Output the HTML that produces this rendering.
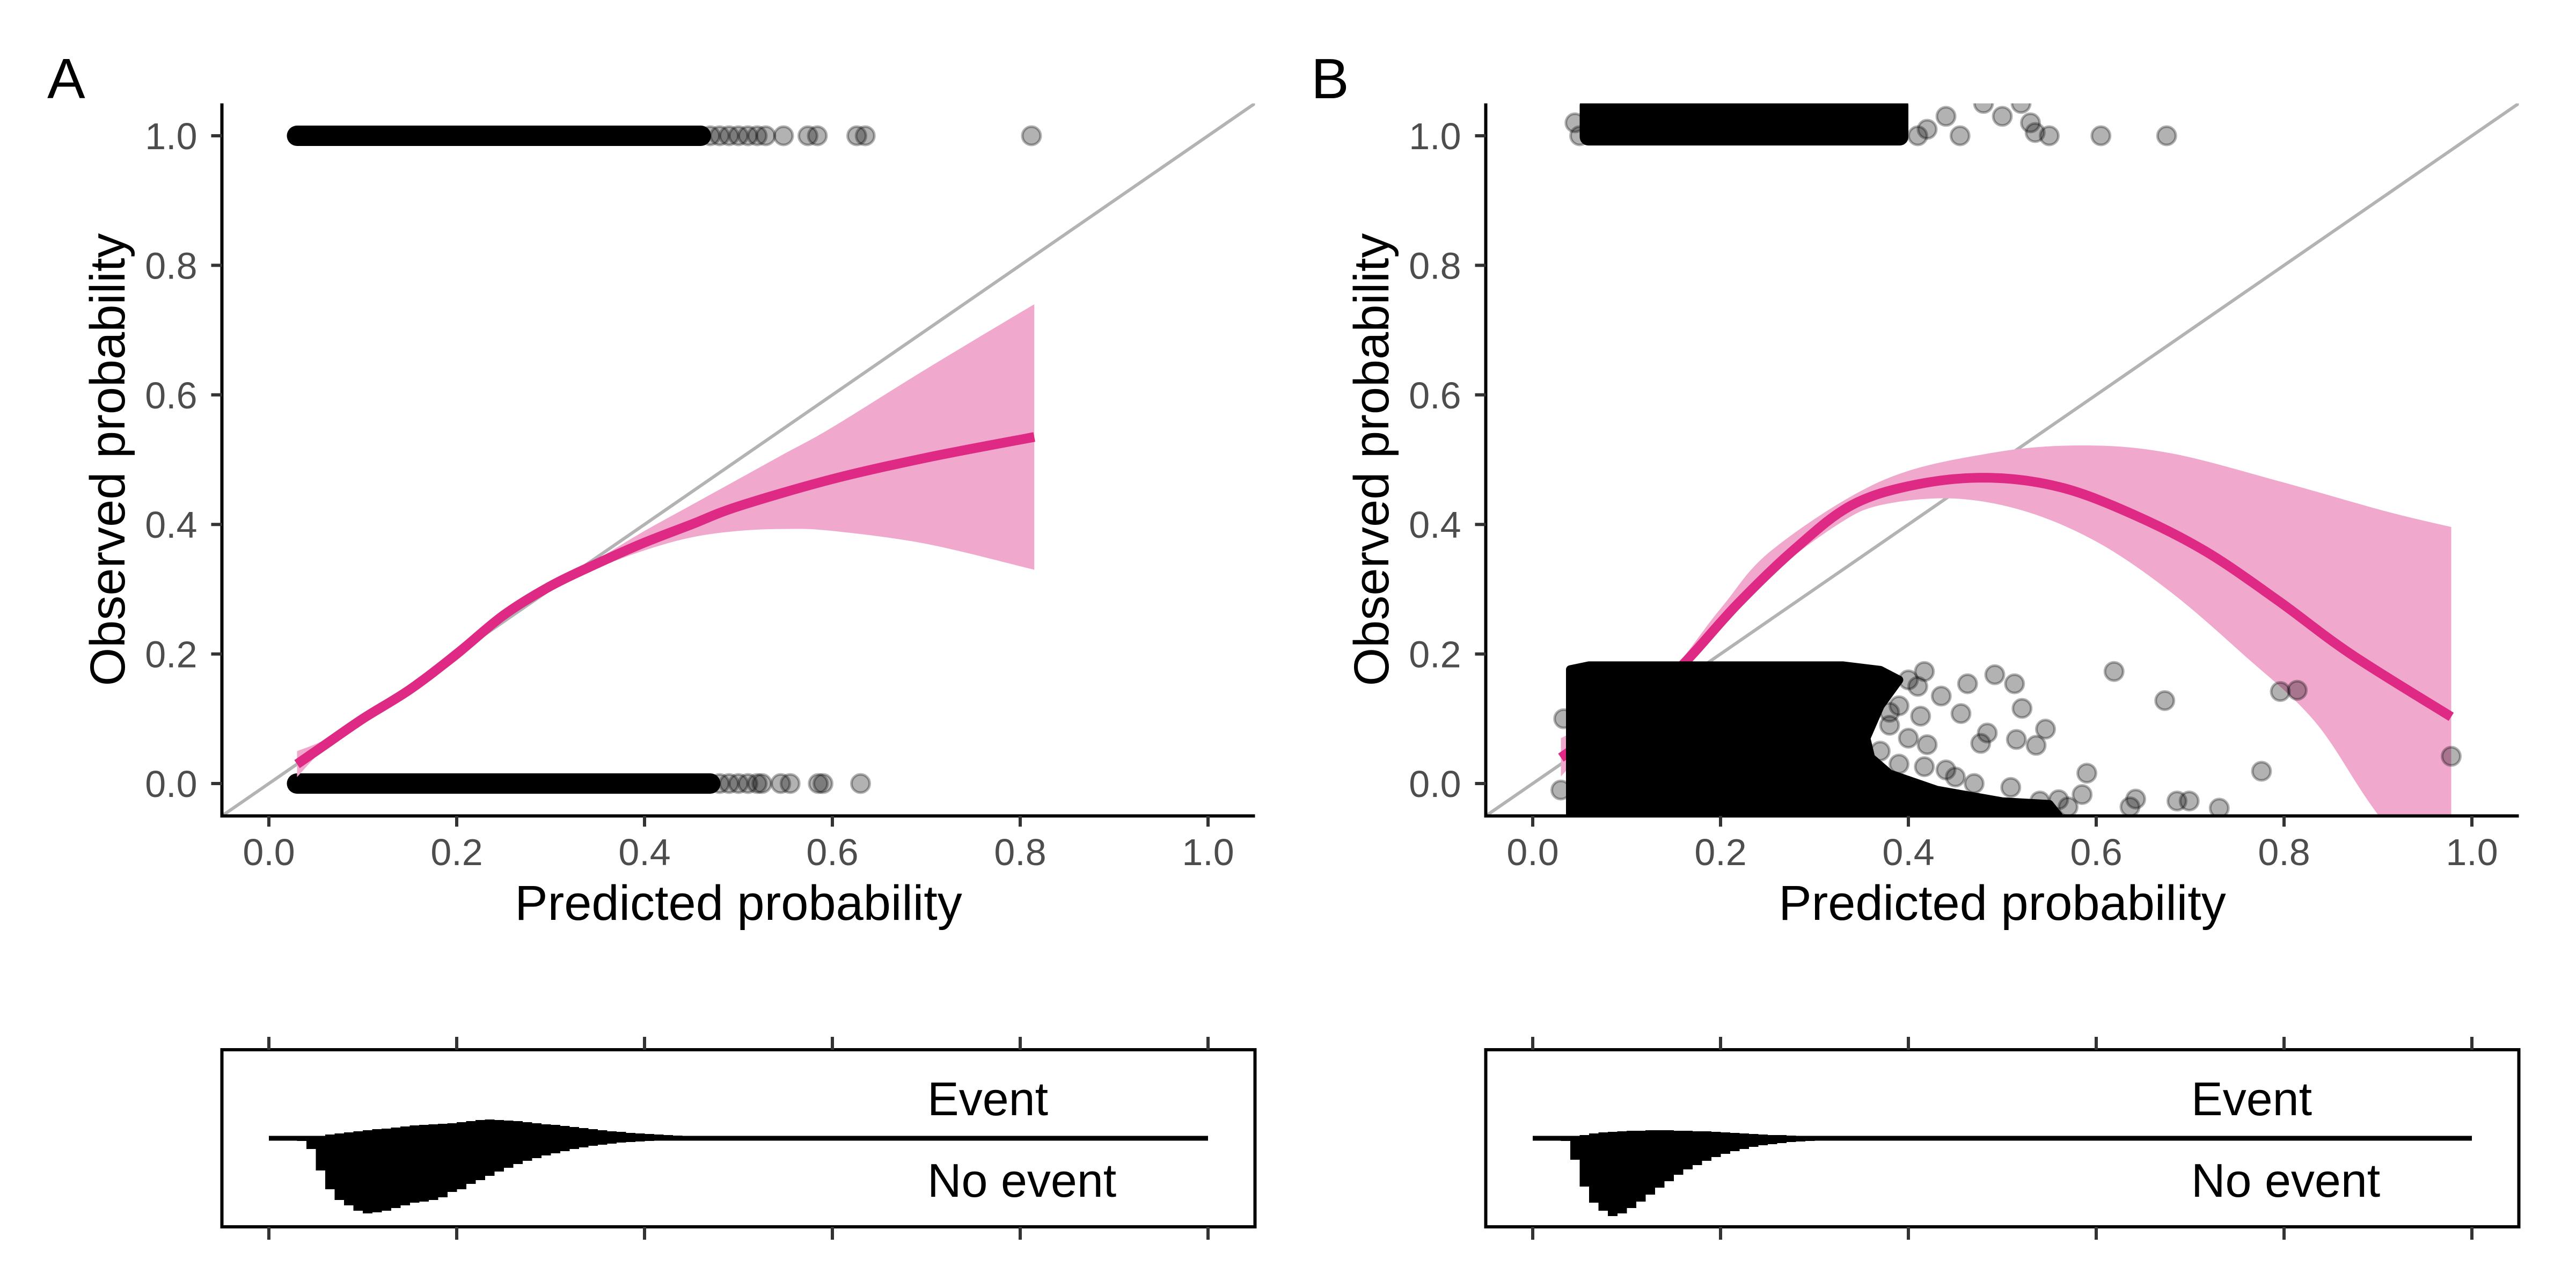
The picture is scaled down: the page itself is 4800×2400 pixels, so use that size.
<!DOCTYPE html>
<html><head><meta charset="utf-8"><title>Calibration plots</title>
<style>html,body{margin:0;padding:0;background:#fff}svg{display:block}text{font-family:"Liberation Sans",Arial,sans-serif}</style>
</head><body>
<svg id="chart" xmlns="http://www.w3.org/2000/svg" width="4800" height="2400" viewBox="0 0 4800 2400"></svg>
<script>
// ---------- data ----------
const xTicks = [0, 0.2, 0.4, 0.6, 0.8, 1.0];
const yTicks = [0, 0.2, 0.4, 0.6, 0.8, 1.0];
const tickLabels = ["0.0", "0.2", "0.4", "0.6", "0.8", "1.0"];
const panelLetters = ["A", "B"];

// Panel A smooth curve + CI
const aCurveX = [0.03, 0.06, 0.1, 0.15, 0.2, 0.25, 0.3, 0.35, 0.4, 0.45, 0.5, 0.6, 0.7, 0.815];
const aCurveY = [0.03, 0.06, 0.10, 0.145, 0.20, 0.26, 0.305, 0.34, 0.372, 0.40, 0.428, 0.47, 0.503, 0.535];
const aLowX = [0.03, 0.06, 0.1, 0.15, 0.2, 0.25, 0.3, 0.35, 0.4, 0.45, 0.5, 0.55, 0.6, 0.7, 0.815];
const aLowY = [0.01, 0.055, 0.095, 0.14, 0.19, 0.255, 0.30, 0.333, 0.36, 0.38, 0.39, 0.393, 0.39, 0.37, 0.33];
const aHighY = [0.05, 0.068, 0.105, 0.15, 0.21, 0.265, 0.31, 0.347, 0.39, 0.43, 0.47, 0.51, 0.55, 0.64, 0.74];
// Panel A dense bands (x start, x end) and outlier points
const aBandTop = [0.03, 0.46];
const aBandBottom = [0.03, 0.47];
const aOutTopX = [0.47, 0.48, 0.49, 0.50, 0.51, 0.52, 0.529, 0.548, 0.574, 0.584, 0.626, 0.635, 0.812];
const aOutBotX = [0.48, 0.49, 0.50, 0.51, 0.52, 0.525, 0.545, 0.555, 0.585, 0.59, 0.63];

// Panel B smooth curve + CI
const bCurveX = [0.03, 0.07, 0.118, 0.164, 0.218, 0.279, 0.34, 0.41, 0.487, 0.563, 0.64, 0.717, 0.794, 0.871, 0.978];
const bCurveY = [0.04, 0.08, 0.125, 0.19, 0.277, 0.362, 0.43, 0.462, 0.472, 0.457, 0.415, 0.358, 0.282, 0.20, 0.103];
const bLowX = [0.03, 0.07, 0.135, 0.2, 0.256, 0.325, 0.371, 0.448, 0.525, 0.602, 0.679, 0.756, 0.832, 0.894, 0.978];
const bLowY = [0.011, 0.07, 0.135, 0.24, 0.325, 0.40, 0.43, 0.44, 0.42, 0.372, 0.296, 0.20, 0.097, -0.036, -0.2];
const bHighX = [0.03, 0.07, 0.14, 0.2, 0.256, 0.371, 0.487, 0.586, 0.679, 0.794, 0.909, 0.978];
const bHighY = [0.07, 0.10, 0.163, 0.27, 0.362, 0.467, 0.51, 0.522, 0.51, 0.467, 0.42, 0.396];
// Panel B dense clouds (outline in data coords)
const bCloudX = [0.04, 0.04, 0.06, 0.33, 0.37, 0.39, 0.37, 0.355, 0.36, 0.38, 0.43, 0.5, 0.55, 0.56];
const bCloudY = [-0.05, 0.176, 0.182, 0.182, 0.175, 0.16, 0.12, 0.07, 0.04, 0.015, -0.01, -0.028, -0.032, -0.05];
const bTopCloud = [0.05, 0.40, 0.985];
const bOutTopX = [0.44, 0.455, 0.48, 0.5, 0.52, 0.53, 0.535, 0.55, 0.605, 0.675, 0.42, 0.41, 0.045, 0.05];
const bOutTopY = [1.03, 1.0, 1.05, 1.03, 1.05, 1.02, 1.005, 1.0, 1.0, 1.0, 1.01, 1.0, 1.02, 1.0];
const bOutBotX = [0.417, 0.463, 0.492, 0.513, 0.521, 0.546, 0.536, 0.515, 0.484, 0.477, 0.456, 0.435, 0.413, 0.417, 0.44, 0.47, 0.509, 0.59, 0.585, 0.642, 0.686, 0.699, 0.731, 0.619, 0.673, 0.796, 0.814, 0.776, 0.978, 0.56, 0.636, 0.57, 0.54, 0.40, 0.39, 0.03, 0.033, 0.38, 0.40, 0.37, 0.39, 0.41, 0.36, 0.38, 0.42, 0.45];
const bOutBotY = [0.173, 0.154, 0.168, 0.154, 0.116, 0.084, 0.059, 0.068, 0.078, 0.062, 0.108, 0.135, 0.104, 0.026, 0.021, 0.0, -0.006, 0.016, -0.017, -0.024, -0.027, -0.027, -0.038, 0.173, 0.128, 0.142, 0.144, 0.019, 0.042, -0.025, -0.036, -0.036, -0.027, 0.16, 0.12, -0.01, 0.1, 0.09, 0.07, 0.05, 0.03, 0.15, 0.13, 0.11, 0.06, 0.01];

// Histograms: bins of 0.01 starting at 0.03
const histStart = 0.03;
const histBin = 0.01;
const aEvent = [1,2,4,7,9,11,13,15,17,18,20,22,24,25,26,27,28,30,32,34,35,34,33,32,30,28,26,25,23,21,19,17,15,13,12,10,9,8,7,6,5,4,4,3,3,2,2,2,1,1,1,1,1];
const aNoEvent = [5,20,60,95,115,125,135,140,138,135,130,125,120,118,115,110,100,95,85,78,70,62,55,48,42,37,32,28,24,20,17,14,12,10,8,7,6,5,4,3,3,2,2,2,1,1,1,1,1,1,1,1,1];
const bEvent = [1,3,6,9,11,12,13,14,14,15,15,15,14,14,13,13,12,11,10,9,8,7,6,6,5,4,4,3,3,3,2,2,2,1,1,1,1,1,1,1];
const bNoEvent = [5,40,90,120,135,145,140,130,118,105,92,80,68,58,50,42,35,29,24,20,16,13,11,9,7,6,5,4,3,3,2,2,2,1,1,1,1,1,1,1];

// ---------- helpers ----------
const NS = "http://www.w3.org/2000/svg";
const svg = document.getElementById("chart");
function mk(tag, attrs, parent) {
  const e = document.createElementNS(NS, tag);
  for (const k in attrs) e.setAttribute(k, attrs[k]);
  (parent || svg).appendChild(e);
  return e;
}
const PINK = "#DE2A85", RIBBON = "#F0A8CC";

function smooth(pts, start) {
  let c = (start ? "M" : "L") + pts[0];
  for (let i = 0; i < pts.length - 1; i++) {
    const p0 = pts[Math.max(0, i - 1)], p1 = pts[i], p2 = pts[i + 1], p3 = pts[Math.min(pts.length - 1, i + 2)];
    c += "C" + (p1[0] + (p2[0] - p0[0]) / 6) + "," + (p1[1] + (p2[1] - p0[1]) / 6) + " " + (p2[0] - (p3[0] - p1[0]) / 6) + "," + (p2[1] - (p3[1] - p1[1]) / 6) + " " + p2[0] + "," + p2[1];
  }
  return c;
}

function panel(off, letter, cfg) {
  const X = v => off + 501 + v * 1750;
  const Y = v => 1460 - v * 1207;
  const g = mk("g", {});
  
  
  const clipId = "clip" + letter;
  const cp = mk("clipPath", {id: clipId}, g);
  mk("rect", {x: X(-0.05), y: Y(1.05), width: X(1.05) - X(-0.05), height: Y(-0.05) - Y(1.05)}, cp);
  const plot = mk("g", {"clip-path": "url(#" + clipId + ")"}, g);
  
  

  const diag = mk("line", {x1: X(-0.05), y1: Y(-0.05), x2: X(1.05), y2: Y(1.05), stroke: "#B3B3B3", "stroke-width": 6}, plot);
  
  

  const drawPoints = () => {
    const pg = mk("g", {}, plot);
    
    
    cfg.points(pg, X, Y);
  };
  const drawCurve = () => {
    const lowPts = cfg.lowX.map((x, i) => [X(x), Y(cfg.lowY[i])]);
    const highPts = cfg.highX.map((x, i) => [X(x), Y(cfg.highY[i])]).reverse();
    const d = smooth(lowPts, true) + smooth(highPts, false) + "Z";
    const rib = mk("path", {d: d, fill: RIBBON}, plot);
    
    
    const pts = cfg.curveX.map((x, i) => [X(x), Y(cfg.curveY[i])]);
    const ln = mk("path", {d: smooth(pts, true), fill: "none", stroke: PINK, "stroke-width": 18}, plot);
    
    
  };
  if (cfg.pointsOnTop) { drawCurve(); drawPoints(); } else { drawPoints(); drawCurve(); }

  // axes
  const ax = mk("g", {}, g);
  
  
  mk("path", {d: "M" + X(-0.05) + "," + Y(1.05) + "V" + Y(-0.05) + "H" + X(1.05), fill: "none", stroke: "#000", "stroke-width": 6}, ax);
  yTicks.forEach((v, i) => {
    mk("line", {x1: X(-0.05) - 20, x2: X(-0.05), y1: Y(v), y2: Y(v), stroke: "#333", "stroke-width": 6}, ax);
    const t = mk("text", {x: X(-0.05) - 46, y: Y(v) + 25, "text-anchor": "end", "font-size": 70, fill: "#4D4D4D"}, ax);
    t.textContent = tickLabels[i];
    
    
  });
  xTicks.forEach((v, i) => {
    mk("line", {x1: X(v), x2: X(v), y1: Y(-0.05), y2: Y(-0.05) + 20, stroke: "#333", "stroke-width": 6}, ax);
    const t = mk("text", {x: X(v), y: 1612, "text-anchor": "middle", "font-size": 70, fill: "#4D4D4D"}, ax);
    t.textContent = tickLabels[i];
    
    
  });
  const xt = mk("text", {x: (X(-0.05) + X(1.05)) / 2, y: 1714, "text-anchor": "middle", "font-size": 92, fill: "#000"}, g);
  xt.textContent = "Predicted probability";
  
  
  const yc = (Y(1.05) + Y(-0.05)) / 2, yx = off + 232;
  const yt = mk("text", {x: yx, y: yc, transform: "rotate(-90 " + yx + " " + yc + ")", "text-anchor": "middle", "font-size": 92, fill: "#000"}, g);
  yt.textContent = "Observed probability";
  
  
  const lt = mk("text", {x: off + 88, y: 183, "font-size": 106, fill: "#000"}, g);
  lt.textContent = letter;
  
  

  // histogram strip
  const hg = mk("g", {}, g);
  
  
  mk("rect", {x: X(-0.05), y: 1956, width: X(1.05) - X(-0.05), height: 330, fill: "none", stroke: "#000", "stroke-width": 6}, hg);
  xTicks.forEach(v => {
    mk("line", {x1: X(v), x2: X(v), y1: 1932, y2: 1956, stroke: "#333", "stroke-width": 6}, hg);
    mk("line", {x1: X(v), x2: X(v), y1: 2286, y2: 2310, stroke: "#333", "stroke-width": 6}, hg);
  });
  const base = 2121;
  const H = c => c * 1.0;
  mk("line", {x1: X(0), x2: X(1), y1: base, y2: base, stroke: "#000", "stroke-width": 9}, hg);
  const bw = X(histBin) - X(0);
  cfg.ev.forEach((c, i) => {
    const r = mk("rect", {x: X(histStart + i * histBin), y: base - H(c), width: bw + 0.5, height: H(c), fill: "#000"}, hg);
    
    
  });
  cfg.nev.forEach((c, i) => {
    const r = mk("rect", {x: X(histStart + i * histBin), y: base, width: bw + 0.5, height: H(c), fill: "#000"}, hg);
    
    
  });
  const e1 = mk("text", {x: off + 1728, y: 2078, "font-size": 88, fill: "#000"}, hg);
  e1.textContent = "Event";
  
  
  const e2 = mk("text", {x: off + 1728, y: 2230, "font-size": 88, fill: "#000"}, hg);
  e2.textContent = "No event";
  
  
}

function pt(parent, cx, cy) {
  const c = mk("circle", {cx: cx, cy: cy, r: 17, fill: "rgba(0,0,0,0.3)", stroke: "rgba(0,0,0,0.3)", "stroke-width": 5}, parent);
  
  
}

panel(0, panelLetters[0], {
  curveX: aCurveX, curveY: aCurveY, lowX: aLowX, lowY: aLowY, highX: aLowX, highY: aHighY,
  ev: aEvent, nev: aNoEvent, pointsOnTop: false,
  points: (pg, X, Y) => {
    const b1 = mk("line", {x1: X(aBandTop[0]), x2: X(aBandTop[1]), y1: Y(1), y2: Y(1), stroke: "#000", "stroke-width": 38, "stroke-linecap": "round"}, pg);
    
    
    const b2 = mk("line", {x1: X(aBandBottom[0]), x2: X(aBandBottom[1]), y1: Y(0), y2: Y(0), stroke: "#000", "stroke-width": 38, "stroke-linecap": "round"}, pg);
    
    
    aOutTopX.forEach(x => pt(pg, X(x), Y(1)));
    aOutBotX.forEach(x => pt(pg, X(x), Y(0)));
  }
});

panel(2355, panelLetters[1], {
  curveX: bCurveX, curveY: bCurveY, lowX: bLowX, lowY: bLowY, highX: bHighX, highY: bHighY,
  ev: bEvent, nev: bNoEvent, pointsOnTop: true,
  points: (pg, X, Y) => {
    let d = "";
    bCloudX.forEach((x, i) => d += (i ? "L" : "M") + X(x) + "," + Y(bCloudY[i]));
    const cl = mk("path", {d: d + "Z", fill: "#000", stroke: "#000", "stroke-width": 16, "stroke-linejoin": "round"}, pg);
    
    
    const tc = mk("rect", {x: X(bTopCloud[0]), y: Y(1.06), width: X(bTopCloud[1]) - X(bTopCloud[0]), height: Y(bTopCloud[2]) - Y(1.06), rx: 16, fill: "#000"}, pg);
    
    
    bOutTopX.forEach((x, i) => pt(pg, X(x), Y(bOutTopY[i])));
    bOutBotX.forEach((x, i) => pt(pg, X(x), Y(bOutBotY[i])));
  }
});
</script>
</body></html>
